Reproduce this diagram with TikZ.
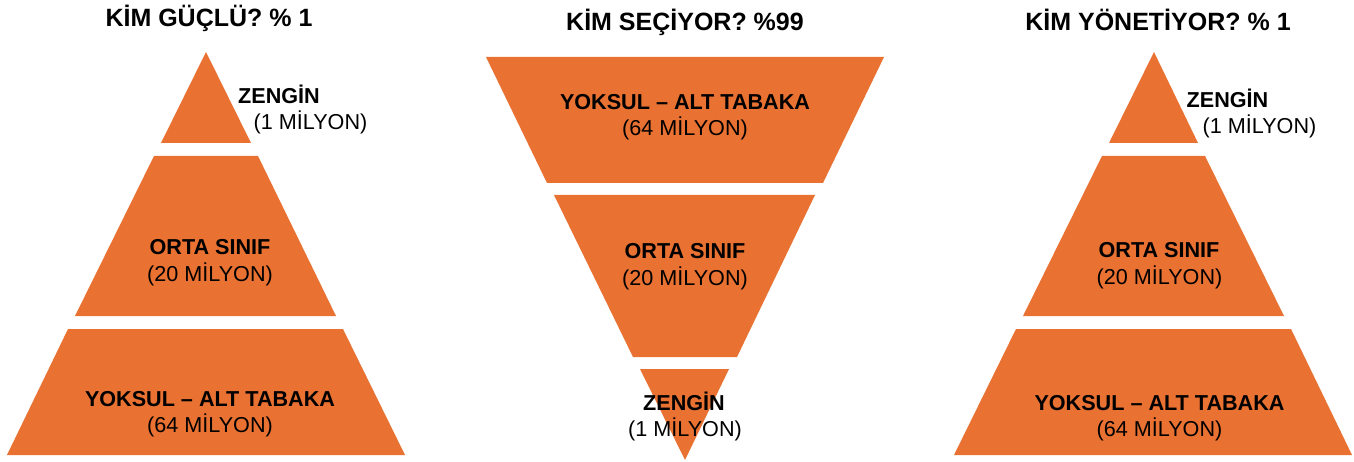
\documentclass[tikz,border=0pt]{standalone}
\usepackage{fontspec}
\setmainfont{Liberation Sans}
\definecolor{layer}{RGB}{233,113,50}
\begin{document}
\begin{tikzpicture}[x=1pt,y=-1pt,
  band/.style={fill=layer,draw=none},
  head/.style={anchor=base,inner sep=0pt,font=\fontsize{25}{30}\selectfont\bfseries},
  lbl/.style={anchor=base,inner sep=0pt,font=\fontsize{21.6}{26}\selectfont\bfseries},
  num/.style={anchor=base,inner sep=0pt,font=\fontsize{21.6}{26}\selectfont}]
\useasboundingbox[fill=white] (0,0) rectangle (1354,462);
% left pyramid
\fill[band] (206,52) -- (251,143) -- (161,143) -- cycle;
\fill[band] (154,156) -- (258,156) -- (336,316) -- (75,316) -- cycle;
\fill[band] (68,329) -- (343,329) -- (405,455) -- (7,455) -- cycle;
% middle inverted pyramid
\fill[band] (486,57) -- (884,57) -- (823,183) -- (547,183) -- cycle;
\fill[band] (554,195) -- (815,195) -- (737,357) -- (633,357) -- cycle;
\fill[band] (640,369) -- (729,369) -- (685,460) -- cycle;
% right pyramid
\fill[band] (1154,52) -- (1198,143) -- (1109,143) -- cycle;
\fill[band] (1102,156) -- (1205,156) -- (1284,316) -- (1023,316) -- cycle;
\fill[band] (1016,329) -- (1291,329) -- (1352,455) -- (954,455) -- cycle;
% titles
\node[head] (t1) at (209,27) {KİM GÜÇLÜ? \% 1};
\node[head] (t2) at (685,31) {KİM SEÇİYOR? \%99};
\node[head] (t3) at (1158,31) {KİM YÖNETİYOR? \% 1};
% left labels
\node[lbl] (l1a) at (279,104) {ZENGİN};
\node[num] (l1b) at (310.5,130) {(1 MİLYON)};
\node[lbl] (l2a) at (210,255) {ORTA SINIF};
\node[num] (l2b) at (210,281) {(20 MİLYON)};
\node[lbl] (l3a) at (210,406) {YOKSUL – ALT TABAKA};
\node[num] (l3b) at (210,432) {(64 MİLYON)};
% middle labels
\node[lbl] (m1a) at (685,110) {YOKSUL – ALT TABAKA};
\node[num] (m1b) at (685,136) {(64 MİLYON)};
\node[lbl] (m2a) at (685,259) {ORTA SINIF};
\node[num] (m2b) at (685,285) {(20 MİLYON)};
\node[lbl] (m3a) at (684,410) {ZENGİN};
\node[num] (m3b) at (685,436) {(1 MİLYON)};
% right labels
\node[lbl] (r1a) at (1227.5,108) {ZENGİN};
\node[num] (r1b) at (1259.5,134) {(1 MİLYON)};
\node[lbl] (r2a) at (1159,258) {ORTA SINIF};
\node[num] (r2b) at (1159.5,284) {(20 MİLYON)};
\node[lbl] (r3a) at (1159.5,410) {YOKSUL – ALT TABAKA};
\node[num] (r3b) at (1159.5,436) {(64 MİLYON)};
\end{tikzpicture}
\end{document}
